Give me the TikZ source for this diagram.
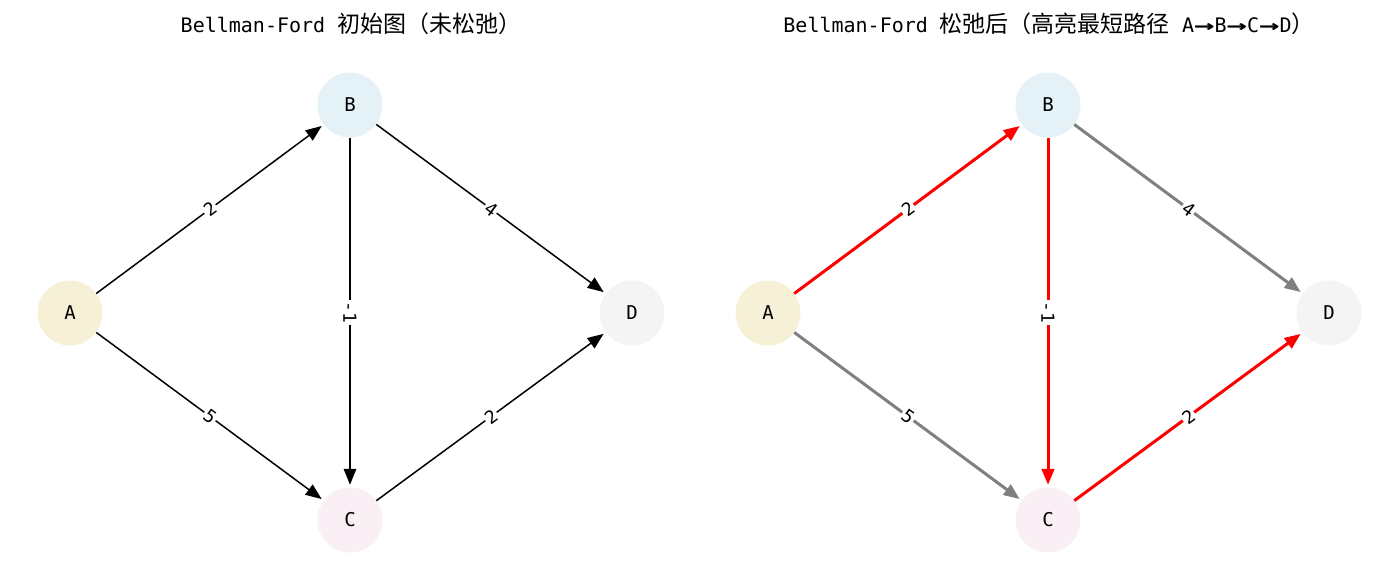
\documentclass[tikz,border=0pt]{standalone}
\usepackage{fontspec}
\setmainfont{DejaVu Sans Mono}
\newfontfamily\cjk{Noto Sans CJK SC}
\usetikzlibrary{arrows.meta}
\definecolor{nA}{HTML}{F6F0D6}
\definecolor{nB}{HTML}{E4F1F6}
\definecolor{nC}{HTML}{F9EFF5}
\definecolor{nD}{HTML}{F4F4F4}
\definecolor{hot}{HTML}{FF0000}
\definecolor{dim}{HTML}{808080}
\newcommand{\cjkt}[1]{{\cjk\fontsize{23}{24}\selectfont #1}}
\newcommand{\warr}{\scalebox{1.7}[1]{\textbf{→}}}
\begin{document}
\begin{tikzpicture}[x=1pt,y=-1pt,
  vtx/.style={circle, minimum size=65pt, inner sep=0pt, font=\fontsize{19}{19}\selectfont},
  elab/.style={fill=white, inner sep=1.5pt, font=\fontsize{18}{18}\selectfont},
  ttl/.style={font=\fontsize{20}{22}\selectfont},
  plainedge/.style={draw=black, line width=1.5pt, -{Triangle[length=16pt,width=12.5pt]}, shorten >=2.5pt},
  hotedge/.style={draw=hot, line width=3pt, -{Triangle[length=16pt,width=12.5pt]}, shorten >=2.5pt},
  dimedge/.style={draw=dim, line width=3pt, -{Triangle[length=16pt,width=12.5pt]}, shorten >=2.5pt}
]
\useasboundingbox (0,0) rectangle (1400,576);
% titles
\node[ttl] (t1) at (351,24) {Bellman-Ford \cjkt{初始图（未松弛）}};
\node[ttl] (t2) at (1049,24) {Bellman-Ford \cjkt{松弛后（高亮最短路径} A\warr B\warr C\warr D\cjkt{）}};
% left graph
\node[vtx, fill=nA] (A1) at (70,313) {A};
\node[vtx, fill=nB] (B1) at (350,105) {B};
\node[vtx, fill=nC] (C1) at (350,520) {C};
\node[vtx, fill=nD] (D1) at (632,313) {D};
\draw[plainedge] (A1) -- node[elab, midway, sloped] {2} (B1);
\draw[plainedge] (A1) -- node[elab, midway, sloped] {5} (C1);
\draw[plainedge] (B1) -- node[elab, midway, rotate=-90] {-1} (C1);
\draw[plainedge] (B1) -- node[elab, midway, sloped] {4} (D1);
\draw[plainedge] (C1) -- node[elab, midway, sloped] {2} (D1);
% right graph
\node[vtx, fill=nA] (A2) at (768,313) {A};
\node[vtx, fill=nB] (B2) at (1048,105) {B};
\node[vtx, fill=nC] (C2) at (1048,520) {C};
\node[vtx, fill=nD] (D2) at (1329,313) {D};
\draw[hotedge] (A2) -- node[elab, midway, sloped] {2} (B2);
\draw[dimedge] (A2) -- node[elab, midway, sloped] {5} (C2);
\draw[hotedge] (B2) -- node[elab, midway, rotate=-90] {-1} (C2);
\draw[dimedge] (B2) -- node[elab, midway, sloped] {4} (D2);
\draw[hotedge] (C2) -- node[elab, midway, sloped] {2} (D2);
\end{tikzpicture}
\end{document}
